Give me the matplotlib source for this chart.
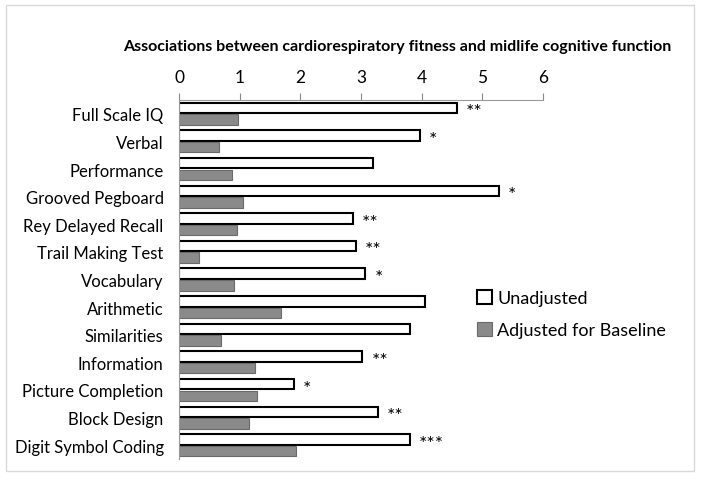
import matplotlib.pyplot as plt
import numpy as np
from matplotlib.patches import Rectangle

plt.rcParams['font.family'] = ['Lato', 'DejaVu Sans']

categories = ["Full Scale IQ", "Verbal", "Performance", "Grooved Pegboard",
              "Rey Delayed Recall", "Trail Making Test", "Vocabulary",
              "Arithmetic", "Similarities", "Information", "Picture Completion",
              "Block Design", "Digit Symbol Coding"]
unadjusted = [4.58, 3.97, 3.19, 5.27, 2.87, 2.92, 3.07,
              4.06, 3.81, 3.02, 1.89, 3.28, 3.80]
adjusted = [0.98, 0.66, 0.87, 1.05, 0.96, 0.33, 0.90,
            1.68, 0.69, 1.26, 1.28, 1.16, 1.93]
stars = ["**", "*", "", "*", "**", "**", "*", "", "", "**", "*", "**", "***"]

fig = plt.figure(figsize=(7.01, 4.81), dpi=100)
ax = fig.add_axes([179 / 701, 1 - 460 / 481, 364 / 701, 359 / 481])

y = np.arange(len(categories))
h = 0.38
ax.barh(y - h / 2 - 0.02, unadjusted, height=h, color="white",
        edgecolor="black", linewidth=1.5, label="Unadjusted")
ax.barh(y + h / 2 + 0.02, adjusted, height=h, color="#8a8a8a",
        edgecolor="#6a6a6a", linewidth=0.8, label="Adjusted for Baseline")

# significance stars next to the unadjusted bars
for yi, val, s in zip(y, unadjusted, stars):
    if s:
        ax.text(val + 0.15, yi - h / 2 + 0.12, s, fontsize=14,
                ha="left", va="center")

ax.set_xlim(0, 6)
ax.set_ylim(len(categories) - 0.5, -0.5)
ax.set_xticks(range(7))
ax.set_yticks(y)
ax.set_yticklabels(categories)
ax.xaxis.tick_top()
ax.tick_params(axis="x", colors="#888888", labelcolor="black", length=5,
               labelsize=12.5, pad=6)
ax.tick_params(axis="y", length=0, labelsize=12, pad=11)
for side in ["right", "bottom"]:
    ax.spines[side].set_visible(False)
for side in ["top", "left"]:
    ax.spines[side].set_color("#999999")

ax.legend(loc="upper left", bbox_to_anchor=(461 / 701, 1 - 275 / 481),
          bbox_transform=fig.transFigure, frameon=False, fontsize=13,
          handlelength=0.8, handleheight=0.8, handletextpad=0.3,
          labelspacing=0.85)

fig.text(397 / 701, 1 - 47 / 481,
         "Associations between cardiorespiratory fitness and midlife cognitive function",
         ha="center", va="center", fontsize=11.5, fontweight="bold")

fig.patches.append(Rectangle((6 / 701, 1 - 472 / 481), 688 / 701, 466 / 481,
                             transform=fig.transFigure, fill=False,
                             edgecolor="#d9d9d9", linewidth=1))

fig.savefig("out.png", dpi=100)
